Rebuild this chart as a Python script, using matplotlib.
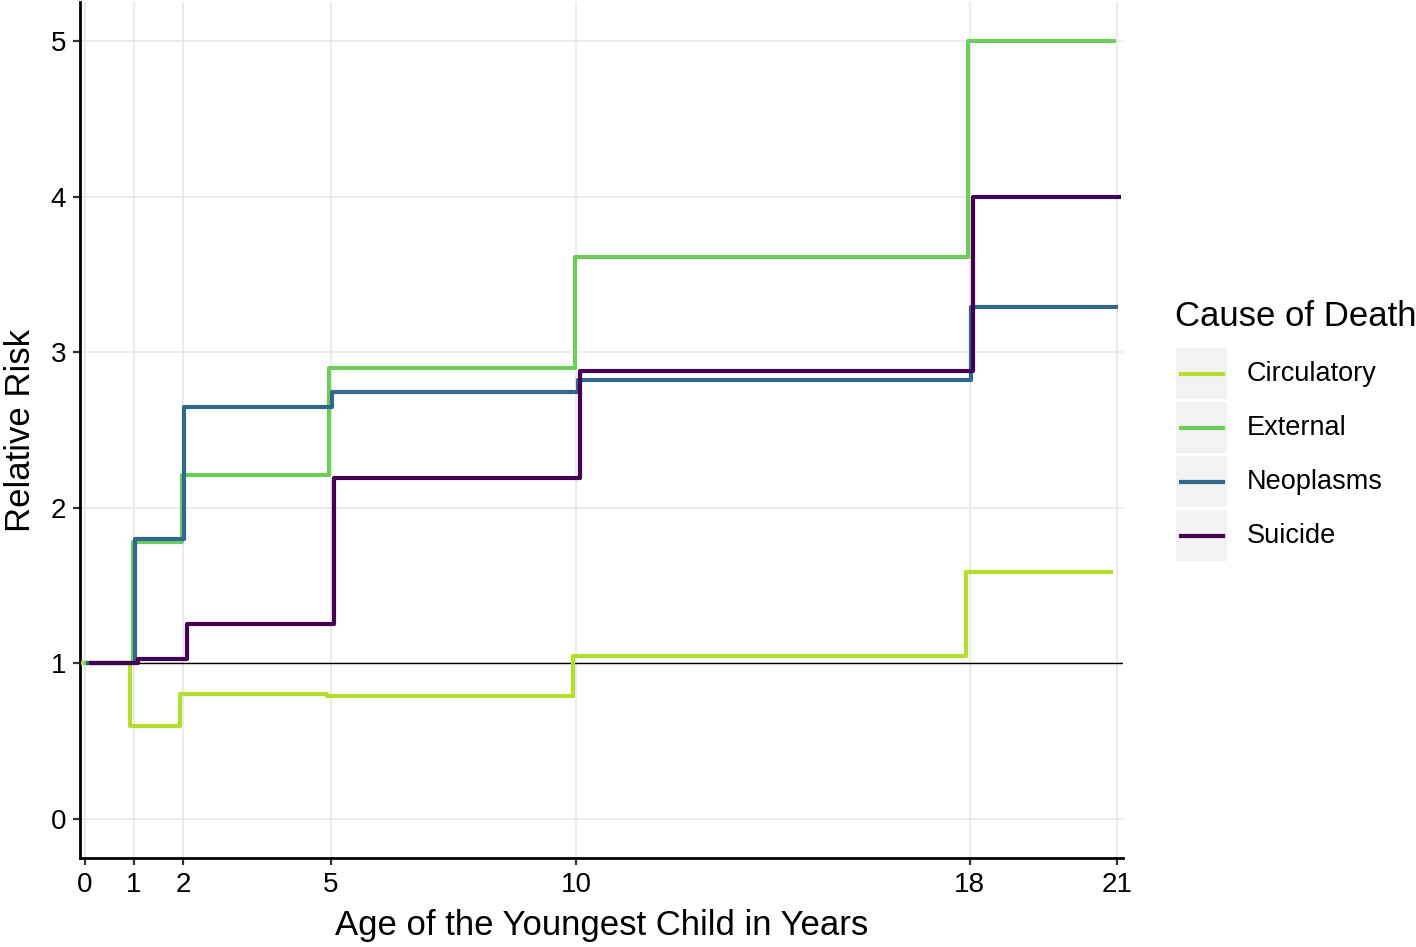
import matplotlib
matplotlib.use("Agg")
import matplotlib.pyplot as plt
from matplotlib.patches import Rectangle
from matplotlib.lines import Line2D

plt.rcParams['font.family'] = ['Liberation Sans', 'DejaVu Sans']

# age breakpoints of the youngest child (years)
ages = [0, 1, 2, 5, 10, 18, 21]

# relative risk in each age interval (last value repeated for the final step)
causes = ["Circulatory", "External", "Neoplasms", "Suicide"]
circulatory = [1.00, 0.60, 0.805, 0.79, 1.05, 1.585, 1.585]
external = [1.00, 1.78, 2.21, 2.90, 3.61, 5.00, 5.00]
neoplasms = [1.00, 1.80, 2.645, 2.745, 2.82, 3.29, 3.29]
suicide = [1.00, 1.03, 1.255, 2.19, 2.88, 4.00, 4.00]
series = [circulatory, external, neoplasms, suicide]

colors = ["#B5DE2B", "#6CCE59", "#31688E", "#440154"]
dodge = [-0.075, -0.025, 0.025, 0.075]

fig = plt.figure(figsize=(14.16, 9.47), dpi=100)
ax = fig.add_axes([80 / 1416, 89 / 947, 1043 / 1416, 856 / 947])

# reference line at relative risk 1
ax.axhline(1, color="black", lw=1.0, zorder=2)

for vals, col, off in zip(series, colors, dodge):
    xs = [a + off for a in ages]
    ax.step(xs, vals, where="post", color=col, lw=3.0, zorder=3,
            solid_joinstyle="round", solid_capstyle="butt")

ax.set_xlim(-0.1, 21.12)
ax.set_ylim(-0.25, 5.25)
ax.set_xticks(ages)
ax.set_yticks([0, 1, 2, 3, 4, 5])

ax.grid(True, color="#E5E5E5", lw=1.1)
ax.set_axisbelow(True)
for side in ["top", "right"]:
    ax.spines[side].set_visible(False)
for side in ["left", "bottom"]:
    ax.spines[side].set_linewidth(2.0)
    ax.spines[side].set_color("black")
ax.tick_params(axis="both", length=5, width=1.6, color="#333333",
               labelsize=20, labelcolor="black", pad=5)

ax.set_xlabel("Age of the Youngest Child in Years", fontsize=25, labelpad=8)
ax.set_ylabel("Relative Risk", fontsize=25, labelpad=10)

# legend drawn by hand to get the grey ggplot key boxes
def fx(px):
    return px / 1416

def fy(py):
    return 1 - py / 947

fig.text(fx(1175), fy(316), "Cause of Death", fontsize=25, va="center", ha="left")
for i, (name, col) in enumerate(zip(causes, colors)):
    top = 348 + i * 54
    fig.add_artist(Rectangle((fx(1176), fy(top + 51)), fx(51), 51 / 947,
                             transform=fig.transFigure, facecolor="#F2F2F2",
                             edgecolor="none"))
    cy = top + 26
    fig.add_artist(Line2D([fx(1181), fx(1223)], [fy(cy), fy(cy)],
                          transform=fig.transFigure, color=col, lw=3.0))
    fig.text(fx(1247), fy(cy), name, fontsize=19.5, va="center", ha="left")

fig.savefig("out.png", dpi=100)
